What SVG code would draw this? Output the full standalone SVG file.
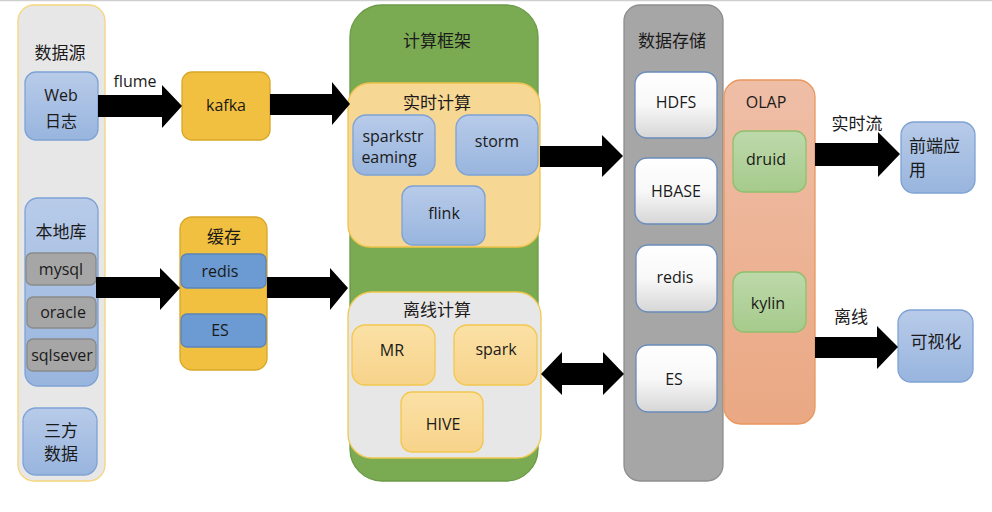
<svg xmlns="http://www.w3.org/2000/svg" width="992" height="512" viewBox="0 0 992 512">
<defs>
<linearGradient id="gBlue" x1="0" y1="0" x2="0" y2="1"><stop offset="0" stop-color="#b8cbe9"/><stop offset="1" stop-color="#98b5de"/></linearGradient>
<linearGradient id="gWhite" x1="0" y1="0" x2="0" y2="1"><stop offset="0" stop-color="#ffffff"/><stop offset="0.5" stop-color="#f8f8f8"/><stop offset="1" stop-color="#d6d6d6"/></linearGradient>
<linearGradient id="gYellow" x1="0" y1="0" x2="0" y2="1"><stop offset="0" stop-color="#fbe1a6"/><stop offset="1" stop-color="#f7d38a"/></linearGradient>
<linearGradient id="gGreen" x1="0" y1="0" x2="0" y2="1"><stop offset="0" stop-color="#bdd9aa"/><stop offset="1" stop-color="#a6ca8c"/></linearGradient>
<linearGradient id="gOlap" x1="0" y1="0" x2="0" y2="1"><stop offset="0" stop-color="#efbea7"/><stop offset="1" stop-color="#eaa883"/></linearGradient>
</defs>
<style>
text{font-family:"Open Sans","Liberation Sans","Noto Sans CJK SC",sans-serif;font-size:16px;fill:#1a1a1a;text-anchor:middle}
.cn{font-family:"Noto Sans CJK SC","Noto Sans",sans-serif;font-size:17px}
.blue{fill:url(#gBlue);stroke:#7ea2d4;stroke-width:1.3}
.white{fill:url(#gWhite);stroke:#6a8cbc;stroke-width:1.3}
.yel{fill:url(#gYellow);stroke:#f2c84e;stroke-width:1.3}
.grn{fill:url(#gGreen);stroke:#8fc06e;stroke-width:1.3}
.db{fill:#a6a6a6;stroke:#8a8a8a;stroke-width:1.3}
.cache{fill:#6b9bd2;stroke:#5a84bb;stroke-width:1.3}
.arrow{fill:#000}
</style>
<line x1="0" y1="0.5" x2="992" y2="0.5" stroke="#cfcfcf" stroke-width="1.5"/>

<g id="datasource">
<rect x="18" y="5" width="87" height="476" rx="16" fill="#e8e7e8" stroke="#f5d57e" stroke-width="1.3"/>
<text class="cn" x="60" y="59">数据源</text>
</g>
<g id="weblog">
<rect class="blue" x="25" y="72" width="73" height="68" rx="11"/>
<text x="61" y="101">Web</text>
<text class="cn" x="61" y="127" style="font-size:16px">日志</text>
</g>
<g id="localdb">
<rect class="blue" x="25" y="198" width="73" height="188" rx="13"/>
<text class="cn" x="61" y="238">本地库</text>
</g>
<g id="mysql">
<rect class="db" x="26" y="253" width="70" height="32" rx="6"/>
<text x="61" y="275">mysql</text>
</g>
<g id="oracle">
<rect class="db" x="27" y="297" width="69" height="31" rx="6"/>
<text x="63" y="318">oracle</text>
</g>
<g id="sqlsever">
<rect class="db" x="27" y="339" width="69" height="32" rx="6"/>
<text x="62" y="361">sqlsever</text>
</g>
<g id="thirdparty">
<rect class="blue" x="23" y="408" width="74" height="67" rx="13"/>
<text class="cn" x="61" y="437">三方</text>
<text class="cn" x="61" y="460">数据</text>
</g>

<g id="kafka">
<rect x="182" y="72" width="88" height="68" rx="10" fill="#f2c040" stroke="#d8a728" stroke-width="1.3"/>
<text x="226" y="111">kafka</text>
</g>
<g id="cache">
<rect x="180" y="217" width="87" height="153" rx="12" fill="#f2c040" stroke="#d8a728" stroke-width="1.3"/>
<text class="cn" x="224" y="243">缓存</text>
</g>
<g id="cache-redis">
<rect class="cache" x="181" y="254" width="85" height="34" rx="6"/>
<text x="220" y="277">redis</text>
</g>
<g id="cache-es">
<rect class="cache" x="181" y="314" width="85" height="33" rx="6"/>
<text x="220" y="336">ES</text>
</g>

<g id="compute">
<rect x="350" y="5" width="188" height="476" rx="32" fill="#7aab52" stroke="#6b9a47" stroke-width="1.3"/>
<text class="cn" x="437" y="47">计算框架</text>
</g>
<g id="realtime">
<rect x="348" y="83" width="192" height="164" rx="22" fill="#f7d794" stroke="#f0c24a" stroke-width="1.3"/>
<text class="cn" x="437" y="109">实时计算</text>
</g>
<g id="sparkstreaming">
<rect class="blue" x="353" y="115" width="82" height="60" rx="13"/>
<text x="393" y="142">sparkstr</text>
<text x="389" y="163">eaming</text>
</g>
<g id="storm">
<rect class="blue" x="456" y="115" width="82" height="60" rx="13"/>
<text x="497" y="147">storm</text>
</g>
<g id="flink">
<rect class="blue" x="402" y="186" width="83" height="59" rx="11"/>
<text x="444" y="219">flink</text>
</g>
<g id="offline">
<rect x="348" y="292" width="193" height="166" rx="24" fill="#e8e7e8" stroke="#f0c84e" stroke-width="1.3"/>
<text class="cn" x="437" y="316">离线计算</text>
</g>
<g id="mr">
<rect class="yel" x="352" y="325" width="83" height="60" rx="13"/>
<text x="392" y="356">MR</text>
</g>
<g id="spark">
<rect class="yel" x="454" y="325" width="83" height="60" rx="13"/>
<text x="496" y="355">spark</text>
</g>
<g id="hive">
<rect class="yel" x="401" y="392" width="82" height="60" rx="11"/>
<text x="443" y="430">HIVE</text>
</g>

<g id="storage">
<rect x="624" y="5" width="99" height="476" rx="16" fill="#a6a6a6" stroke="#8e8e8e" stroke-width="1.3"/>
<text class="cn" x="672" y="47">数据存储</text>
</g>
<g id="hdfs">
<rect class="white" x="635" y="72" width="82" height="66" rx="12"/>
<text x="676" y="108">HDFS</text>
</g>
<g id="hbase">
<rect class="white" x="635" y="158" width="82" height="66" rx="12"/>
<text x="676" y="197">HBASE</text>
</g>
<g id="storage-redis">
<rect class="white" x="636" y="245" width="81" height="67" rx="12"/>
<text x="675" y="283">redis</text>
</g>
<g id="storage-es">
<rect class="white" x="636" y="345" width="81" height="67" rx="12"/>
<text x="674" y="385">ES</text>
</g>

<g id="olap">
<rect x="724" y="80" width="91" height="344" rx="17" fill="url(#gOlap)" stroke="#e8975d" stroke-width="1.3"/>
<text x="766" y="108">OLAP</text>
</g>
<g id="druid">
<rect class="grn" x="733" y="131" width="73" height="61" rx="11"/>
<text x="766" y="165">druid</text>
</g>
<g id="kylin">
<rect class="grn" x="733" y="272" width="73" height="60" rx="11"/>
<text x="768" y="309">kylin</text>
</g>

<g id="frontend">
<rect class="blue" x="901" y="122" width="74" height="71" rx="13"/>
<text class="cn" x="909" y="152" style="text-anchor:start">前端应</text>
<text class="cn" x="909" y="176" style="text-anchor:start">用</text>
</g>
<g id="visual">
<rect class="blue" x="898" y="310" width="75" height="72" rx="13"/>
<text class="cn" x="936" y="348">可视化</text>
</g>

<g id="connectors">
<polygon class="arrow" points="98,95 162,95 162,85 182,106 162,128 162,117 98,117"/>
<text x="135" y="87">flume</text>
<polygon class="arrow" points="270,94 332,94 332,82 350,104 332,125 332,115 270,115"/>
<polygon class="arrow" points="96,277 160,277 160,268 180,288 160,310 160,298 96,298"/>
<polygon class="arrow" points="267,277 330,277 330,268 348,288 330,310 330,298 267,298"/>
<polygon class="arrow" points="540,146 602,146 602,135 623,156 602,177 602,167 540,167"/>
<polygon class="arrow" points="541,374 562,352 562,363 603,363 603,352 624,374 603,395 603,385 562,385 562,395"/>
<polygon class="arrow" points="815,143 878,143 878,132 900,154 878,177 878,166 815,166"/>
<text class="cn" x="857" y="130">实时流</text>
<polygon class="arrow" points="815,337 877,337 877,326 898,347 877,369 877,358 815,358"/>
<text class="cn" x="851" y="323">离线</text>
</g>
</svg>
